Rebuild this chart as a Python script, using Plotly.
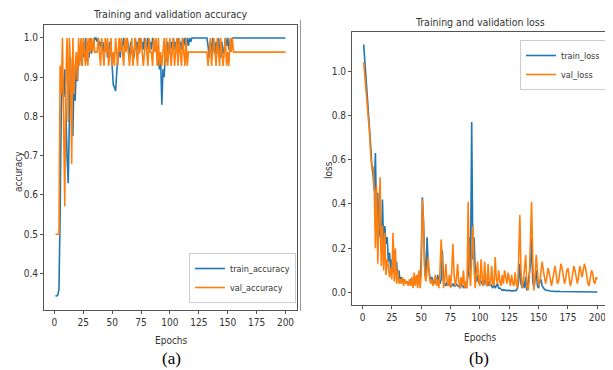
import plotly.graph_objects as go

# The page body has an 8px margin; the figure is sized to fill the rest of the window.
OFF = 8
W, H = 613 - OFF, 370 - OFF

epochs = list(range(1, 201))

train_accuracy = (
    [0.343, 0.343, 0.345, 0.36, 0.55, 0.82, 0.90, 0.85, 0.92, 0.78, 0.70, 0.63, 0.80, 0.95, 0.82, 0.75, 0.90, 0.84, 0.93, 0.89]
    + [0.96, 0.94, 0.97, 0.93, 0.99, 0.95, 1.0, 0.94, 0.99, 0.95, 1.0, 0.96, 0.99, 0.98, 1.0, 1.0, 0.99, 1.0, 0.98, 0.99]
    + [0.97, 0.99, 0.96, 0.98, 0.99, 0.95, 0.97, 0.99, 0.96, 0.93, 0.88, 0.875, 0.865, 0.92, 0.96, 0.97, 0.95, 0.99, 0.97, 1.0]
    + [0.98, 0.97, 1.0, 0.97, 0.95, 0.99, 0.96, 0.97, 0.95, 1.0, 0.97, 0.99, 0.96, 1.0, 0.98, 0.99, 0.97, 1.0, 0.98, 0.97]
    + [1.0, 0.98, 0.99, 0.97, 1.0, 0.99, 0.97, 0.99, 0.96, 0.94, 0.92, 0.94, 0.83, 0.92, 0.90, 0.96, 0.94, 0.99, 0.96, 0.97]
    + [0.99, 0.97, 1.0, 0.97, 0.99, 0.98, 1.0, 0.98, 0.99, 0.97, 1.0, 0.98, 1.0, 0.98, 1.0, 0.98, 1.0, 0.99, 1.0, 1.0]
    + [1.0] * 12 + [0.98, 0.95, 0.99, 0.96, 1.0, 0.97, 0.96, 0.99]
    + [0.96, 1.0, 0.97, 0.95, 0.99, 0.96, 0.97, 1.0, 0.98, 1.0, 0.97, 0.99, 0.98, 1.0] + [1.0] * 6
    + [1.0] * 40
)

val_accuracy = (
    [0.5, 0.5, 0.5, 0.5, 0.929, 0.857, 1.0, 0.821, 0.571, 0.893, 1.0, 0.786, 1.0, 0.929, 0.679, 1.0, 0.857, 0.929, 0.964, 0.893]
    + [1.0, 0.929, 1.0, 0.929, 1.0, 0.964, 0.929, 1.0, 0.929, 1.0, 0.964, 1.0, 0.964, 1.0, 0.964, 0.964, 0.964, 1.0, 0.964, 0.929]
    + [1.0, 0.964, 0.929, 1.0, 0.964, 1.0, 0.929, 0.964, 1.0, 0.929, 0.964, 0.929, 1.0, 0.964, 0.929, 1.0, 0.964, 1.0, 0.964, 0.929]
    + [1.0, 0.964, 1.0, 0.964, 0.929, 0.964, 1.0, 0.929, 0.964, 1.0, 0.964, 0.929, 1.0, 0.964, 1.0, 0.964, 0.929, 0.964, 1.0, 0.964]
    + [0.929, 1.0, 0.964, 0.964, 0.929, 1.0, 0.964, 1.0, 0.929, 1.0, 0.929, 0.964, 0.929, 0.964, 1.0, 0.929, 1.0, 0.929, 0.964, 1.0]
    + [0.929, 0.964, 1.0, 0.929, 0.964, 1.0, 0.929, 1.0, 0.964, 0.929, 1.0, 0.964, 0.929, 1.0, 0.929, 0.964, 0.964, 0.964, 0.964, 0.964]
    + [0.964] * 12 + [0.929, 0.964, 1.0, 0.929, 0.964, 1.0, 0.964, 0.929]
    + [1.0, 0.964, 0.929, 1.0, 0.964, 0.929, 0.964, 1.0, 0.929, 0.964, 0.929, 1.0, 0.964, 1.0, 0.964] + [0.964] * 5
    + [0.964] * 40
)

train_loss = (
    [1.12, 1.05, 0.97, 0.90, 0.82, 0.74, 0.66, 0.57, 0.53, 0.46, 0.63, 0.30, 0.45, 0.25, 0.36, 0.18, 0.42, 0.20, 0.30, 0.22]
    + [0.25, 0.14, 0.18, 0.10, 0.15, 0.09, 0.19, 0.08, 0.14, 0.06, 0.10, 0.05, 0.07, 0.05, 0.06, 0.05, 0.05, 0.04, 0.05, 0.04]
    + [0.06, 0.04, 0.05, 0.07, 0.04, 0.05, 0.08, 0.04, 0.06, 0.15, 0.43, 0.32, 0.12, 0.08, 0.25, 0.12, 0.08, 0.05, 0.07, 0.05]
    + [0.04, 0.06, 0.04, 0.08, 0.05, 0.04, 0.06, 0.19, 0.05, 0.04, 0.03, 0.05, 0.03, 0.04, 0.03, 0.03, 0.04, 0.03, 0.03, 0.04]
    + [0.03, 0.03, 0.02, 0.03, 0.04, 0.02, 0.03, 0.02, 0.05, 0.08, 0.25, 0.10, 0.77, 0.15, 0.25, 0.10, 0.05, 0.08, 0.04, 0.06]
    + [0.05, 0.04, 0.03, 0.06, 0.04, 0.03, 0.05, 0.03, 0.04, 0.03, 0.02, 0.04, 0.02, 0.03, 0.04, 0.02, 0.02, 0.015, 0.01, 0.012]
    + [0.01, 0.01, 0.009, 0.01, 0.008, 0.009, 0.008, 0.008, 0.009, 0.008, 0.01, 0.02, 0.05, 0.13, 0.04, 0.02, 0.05, 0.02, 0.07, 0.01]
    + [0.05, 0.08, 0.12, 0.25, 0.05, 0.02, 0.06, 0.10, 0.03, 0.02, 0.05, 0.06, 0.03, 0.02, 0.015, 0.012, 0.01, 0.008, 0.007, 0.007]
    + [0.006, 0.007, 0.006, 0.005, 0.006, 0.005, 0.006, 0.005, 0.005, 0.006, 0.005, 0.004, 0.005, 0.005, 0.004, 0.005, 0.004, 0.004, 0.005, 0.004]
    + [0.004, 0.005, 0.004, 0.004, 0.003, 0.004, 0.004, 0.003, 0.004, 0.003, 0.003, 0.004, 0.003, 0.003, 0.003, 0.004, 0.003, 0.003, 0.003, 0.003]
)

val_loss = (
    [1.04, 0.98, 0.93, 0.86, 0.80, 0.72, 0.62, 0.56, 0.57, 0.47, 0.20, 0.48, 0.13, 0.35, 0.52, 0.12, 0.30, 0.10, 0.27, 0.08]
    + [0.15, 0.12, 0.07, 0.11, 0.06, 0.27, 0.05, 0.20, 0.04, 0.10, 0.04, 0.06, 0.04, 0.07, 0.03, 0.06, 0.04, 0.05, 0.03, 0.06]
    + [0.03, 0.07, 0.02, 0.09, 0.03, 0.08, 0.02, 0.10, 0.02, 0.08, 0.42, 0.30, 0.08, 0.05, 0.10, 0.16, 0.07, 0.04, 0.06, 0.03]
    + [0.05, 0.08, 0.03, 0.06, 0.02, 0.10, 0.24, 0.10, 0.02, 0.06, 0.13, 0.05, 0.03, 0.08, 0.02, 0.10, 0.22, 0.08, 0.03, 0.06]
    + [0.13, 0.05, 0.02, 0.07, 0.03, 0.10, 0.02, 0.05, 0.02, 0.41, 0.10, 0.03, 0.15, 0.30, 0.12, 0.02, 0.09, 0.14, 0.05, 0.03]
    + [0.15, 0.06, 0.03, 0.14, 0.05, 0.03, 0.13, 0.04, 0.03, 0.12, 0.04, 0.03, 0.16, 0.06, 0.04, 0.10, 0.05, 0.03, 0.08, 0.04]
    + [0.10, 0.07, 0.04, 0.09, 0.05, 0.03, 0.08, 0.04, 0.03, 0.09, 0.04, 0.02, 0.15, 0.35, 0.10, 0.02, 0.05, 0.12, 0.17, 0.03]
    + [0.01, 0.05, 0.20, 0.41, 0.15, 0.01, 0.08, 0.17, 0.10, 0.03, 0.05, 0.09, 0.14, 0.10, 0.06, 0.04, 0.07, 0.11, 0.09, 0.05]
    + [0.03, 0.06, 0.10, 0.12, 0.08, 0.04, 0.05, 0.09, 0.13, 0.11, 0.06, 0.04, 0.06, 0.10, 0.11, 0.07, 0.03, 0.05, 0.08, 0.12]
    + [0.10, 0.06, 0.04, 0.07, 0.12, 0.10, 0.07, 0.10, 0.13, 0.11, 0.07, 0.04, 0.03, 0.06, 0.10, 0.09, 0.05, 0.04, 0.07, 0.06]
)

x_ticks = [0, 25, 50, 75, 100, 125, 150, 175, 200]
acc_ticks = [0.4, 0.5, 0.6, 0.7, 0.8, 0.9, 1.0]
loss_ticks = [0.0, 0.2, 0.4, 0.6, 0.8, 1.0]

BLUE = "#1f77b4"
ORANGE = "#ff7f0e"
FONT = "DejaVu Sans Condensed, DejaVu Sans"
TXT = "#333333"
SPINE = "#555555"


def px(x):
    return (x - OFF) / W


def py(y):
    return 1 - (y - OFF) / H


fig = go.Figure()
fig.add_trace(go.Scatter(x=epochs, y=train_accuracy, mode="lines", name="train_accuracy",
                         line=dict(color=BLUE, width=1.6), xaxis="x", yaxis="y", legend="legend"))
fig.add_trace(go.Scatter(x=epochs, y=val_accuracy, mode="lines", name="val_accuracy",
                         line=dict(color=ORANGE, width=1.6), xaxis="x", yaxis="y", legend="legend"))
fig.add_trace(go.Scatter(x=epochs, y=train_loss, mode="lines", name="train_loss",
                         line=dict(color=BLUE, width=1.6), xaxis="x2", yaxis="y2", legend="legend2"))
fig.add_trace(go.Scatter(x=epochs, y=val_loss, mode="lines", name="val_loss",
                         line=dict(color=ORANGE, width=1.6), xaxis="x2", yaxis="y2", legend="legend2"))

axis_common = dict(showline=True, mirror=True, linecolor=SPINE, linewidth=1,
                   showgrid=False, zeroline=False, ticks="outside", ticklen=3,
                   tickcolor=SPINE, tickfont=dict(family=FONT, size=10, color=TXT))

fig.update_layout(
    width=W, height=H,
    margin=dict(l=0, r=0, t=0, b=0),
    paper_bgcolor="white", plot_bgcolor="white",
    showlegend=True,
    xaxis=dict(domain=[px(44), px(297)], range=[-8.95, 209.95], tickvals=x_ticks,
               anchor="y", **axis_common),
    yaxis=dict(domain=[py(310), py(25)], range=[0.307, 1.033], tickvals=acc_ticks,
               tickformat=".1f", anchor="x", **axis_common),
    xaxis2=dict(domain=[px(352), px(609)], range=[-8.95, 209.95], tickvals=x_ticks,
                anchor="y2", **axis_common),
    yaxis2=dict(domain=[py(305), py(32)], range=[-0.056, 1.176], tickvals=loss_ticks,
                tickformat=".1f", anchor="x2", **axis_common),
    legend=dict(x=px(296), y=py(303), xanchor="right", yanchor="bottom",
                bgcolor="white", bordercolor="#cccccc", borderwidth=1,
                font=dict(family=FONT, size=9, color=TXT), itemwidth=30,
                tracegroupgap=0),
    legend2=dict(x=px(606), y=py(40), xanchor="right", yanchor="top",
                 bgcolor="white", bordercolor="#cccccc", borderwidth=1,
                 font=dict(family=FONT, size=9, color=TXT), itemwidth=30,
                 tracegroupgap=0),
)

ann = []


def label(text, x, y, size, angle=0, family=FONT, color=TXT):
    ann.append(dict(text=text, x=px(x), y=py(y), xref="paper", yref="paper",
                    showarrow=False, xanchor="center", yanchor="middle",
                    textangle=angle, font=dict(family=family, size=size, color=color)))


label("Training and validation accuracy", 170, 14, 10.5)
label("Training and validation loss", 480, 22, 10.5)
label("accuracy", 19, 172, 10, angle=-90)
label("loss", 328, 170, 10, angle=-90)
label("Epochs", 172, 340, 10)
label("Epochs", 480, 337, 10)
label("(a)", 172, 358, 17, family="Liberation Serif", color="#000000")
label("(b)", 479, 358, 17, family="Liberation Serif", color="#000000")
fig.update_layout(annotations=ann)

fig.add_shape(type="line", xref="paper", yref="paper", x0=px(300.5), x1=px(300.5),
              y0=py(20), y1=py(311), line=dict(color="#999999", width=1))

fig.write_html("out.html")
